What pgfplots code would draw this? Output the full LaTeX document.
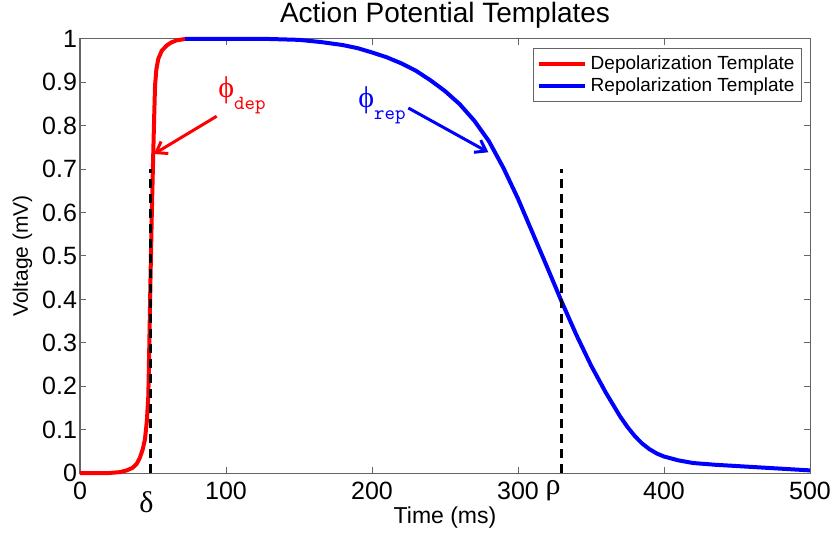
\documentclass[border=0pt]{standalone}
\usepackage{pgfplots}
\pgfplotsset{compat=1.18}
\usepackage{fontspec}
\setmainfont{Liberation Sans}
\newfontfamily\grk{Liberation Serif}
\usetikzlibrary{arrows.meta,calc}

\definecolor{axgray}{RGB}{100,100,100}

\begin{document}
\begin{tikzpicture}
\begin{axis}[
    scale only axis,
    width=365pt, height=217pt,
    xmin=0, xmax=500, ymin=0, ymax=1,
    xtick={0,100,200,300,400,500},
    ytick={0,0.1,0.2,0.3,0.4,0.5,0.6,0.7,0.8,0.9,1},
    tick align=inside,
    major tick length=3pt,
    axis line style={axgray, line width=0.5pt},
    tick style={axgray, line width=0.5pt},
    /pgf/number format/assume math mode=true,
    ticklabel style={font=\fontsize{12.5}{14}\selectfont},
    xticklabel style={yshift=-1pt},
    yticklabel style={xshift=2pt},
    xlabel={Time (ms)},
    ylabel={Voltage (mV)},
    xlabel style={font=\fontsize{11.5}{13}\selectfont, at={(axis description cs:0.5,-0.103)}, anchor=center},
    ylabel style={font=\fontsize{10.5}{12}\selectfont, at={(axis description cs:-0.079,0.5)}, anchor=center},
    clip=false,
    legend cell align=left,
    legend style={at={(rel axis cs:0.989,0.979)}, anchor=north east,
        font=\fontsize{9.5}{10.5}\selectfont, draw=axgray, fill=white,
        inner sep=1.5pt, row sep=-1.5pt},
    legend image code/.code={\draw[#1, line width=2pt] (0pt,0pt) -- (23pt,0pt);},
]
\coordinate (bl) at (rel axis cs:0,0);
\coordinate (tr) at (rel axis cs:1,1);

% depolarization template
\addplot[red, line width=2pt] coordinates {
(0,0) (20,0) (27.4,0.002) (32,0.006) (36,0.012) (38.8,0.021) (41,0.035)
(43,0.055) (44.5,0.078) (45.8,0.12) (46.8,0.178) (47.5,0.3) (48.3,0.45)
(49.2,0.6) (50.2,0.74) (50.8,0.82) (51.4,0.892) (52.3,0.93) (53.6,0.954)
(56,0.973) (59.4,0.985) (62.5,0.992) (66.2,0.997) (72,1.0)
};
\addlegendentry{Depolarization Template}

% repolarization template
\addplot[blue, line width=2pt] coordinates {
(72,1.0) (100,1.0) (130,1.0) (150,0.998) (165,0.993) (180,0.986)
(190,0.979) (200,0.969) (210,0.958) (220,0.944) (230,0.927) (240,0.905)
(250,0.880) (260,0.850) (270,0.812) (280,0.765) (290,0.703) (300,0.632)
(310,0.553) (320,0.474) (330,0.394) (340,0.318) (350,0.248) (360,0.186)
(370,0.130) (375,0.106) (380,0.085) (385,0.068) (390,0.055) (395,0.045)
(400,0.038) (410,0.029) (420,0.023) (435,0.019) (450,0.016) (475,0.011) (500,0.006)
};
\addlegendentry{Repolarization Template}

% delta and rho markers
\addplot[black, line width=1.5pt, dash pattern=on 4.5pt off 3pt, forget plot] coordinates {(48,0) (48,0.7)};
\addplot[black, line width=1.5pt, dash pattern=on 4.5pt off 3pt, forget plot] coordinates {(330,0) (330,0.7)};

\node[font=\grk\fontsize{15}{15}\selectfont] at (axis cs:45.5,0) [yshift=-14.5pt] {δ};
\node[font=\grk\fontsize{15}{15}\selectfont] at (axis cs:324,0) [yshift=-9pt] {ρ};

% annotations
\draw[red, line width=1.5pt, -{Straight Barb[length=5pt,width=7pt]}] (axis cs:93.6,0.822) -- (axis cs:50.6,0.735);
\draw[blue, line width=1.5pt, -{Straight Barb[length=5pt,width=7pt]}] (axis cs:224.9,0.841) -- (axis cs:279.7,0.739);

\node[red, anchor=west, inner sep=0pt] at (axis cs:94.5,0.87)
  {{\grk\fontsize{15}{15}\selectfont ϕ}\raisebox{-6pt}{\ttfamily\fontsize{10}{10}\selectfont dep}};
\node[blue, anchor=west, inner sep=0pt] at (axis cs:190.4,0.847)
  {{\grk\fontsize{15}{15}\selectfont ϕ}\raisebox{-6pt}{\ttfamily\fontsize{10}{10}\selectfont rep}};

% title
\node[font=\fontsize{14}{16}\selectfont, anchor=center] at (rel axis cs:0.5,1) [yshift=12pt] {Action Potential Templates};
\end{axis}
\pgfresetboundingbox
\path[use as bounding box] ($(bl)+(-40pt,-30.5pt)$) rectangle ($(tr)+(11pt,19.5pt)$);
\end{tikzpicture}
\end{document}
